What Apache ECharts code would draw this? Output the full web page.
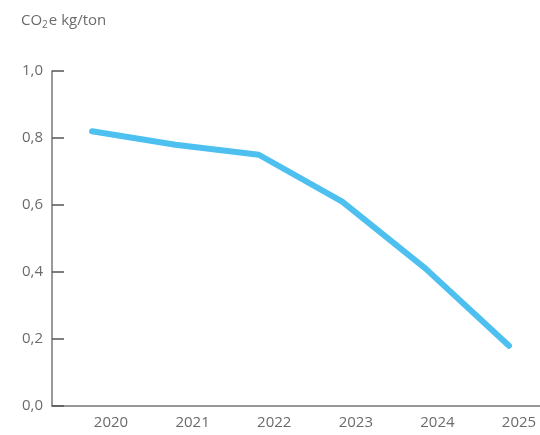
<!DOCTYPE html>
<html><head><meta charset="utf-8">
<script src="https://cdn.jsdelivr.net/npm/echarts@6/dist/echarts.min.js"></script>
<style>html,body{margin:0;padding:0;background:#fff}#c{width:540px;height:435px}</style>
</head><body><div id="c"></div>
<script>
const years = [2020, 2021, 2022, 2023, 2024, 2025];
const emissions = [0.82, 0.78, 0.75, 0.61, 0.41, 0.18];
const yTicks = [0, 0.2, 0.4, 0.6, 0.8, 1.0];

const chart = echarts.init(document.getElementById('c'), null, {renderer: 'canvas'});
const txt = '#6b6b6b';
const font = '"Open Sans", "Noto Sans", sans-serif';
chart.setOption({
  animation: false,
  textStyle: {fontFamily: font},
  title: {
    text: '{a|CO}{s|2}{a|e kg/ton}',
    left: 21, top: 12, padding: 0,
    textStyle: {fontWeight: 'normal', rich: {
      a: {fontSize: 15, color: txt, fontFamily: font, fontWeight: 'normal'},
      s: {fontSize: 10, color: txt, fontFamily: font, fontWeight: 'normal', padding: [8, 1, 0, 0]}
    }}
  },
  grid: {left: 52, right: 0, top: 71, bottom: 29, containLabel: false},
  xAxis: [{
    type: 'value', min: 2019.52, max: 2025.372,
    axisLine: {show: true, lineStyle: {color: '#777', width: 1.5}},
    axisTick: {show: false}, axisLabel: {show: false}, splitLine: {show: false}
  }, {
    type: 'value', position: 'bottom', min: 2019.277, max: 2025.257,
    axisLine: {show: false}, axisTick: {show: false}, splitLine: {show: false},
    axisLabel: {show: true, customValues: years, color: txt, fontSize: 15, margin: 9,
      fontFamily: font, formatter: v => String(Math.round(v))}
  }],
  yAxis: {
    type: 'value', min: 0, max: 1, interval: 0.2,
    axisLine: {show: true, lineStyle: {color: '#777', width: 1.5}},
    axisTick: {show: true, inside: true, length: 12, lineStyle: {color: '#555', width: 1.5}},
    splitLine: {show: false},
    axisLabel: {color: txt, fontSize: 15, margin: 9, fontFamily: font,
      formatter: v => v.toFixed(1).replace('.', ',')}
  },
  series: [{
    type: 'line', xAxisIndex: 0,
    data: years.map((y, i) => [y, emissions[i]]),
    showSymbol: false, symbol: 'none',
    lineStyle: {color: '#4dc0f0', width: 6, cap: 'round', join: 'round'}
  }]
});
</script></body></html>
